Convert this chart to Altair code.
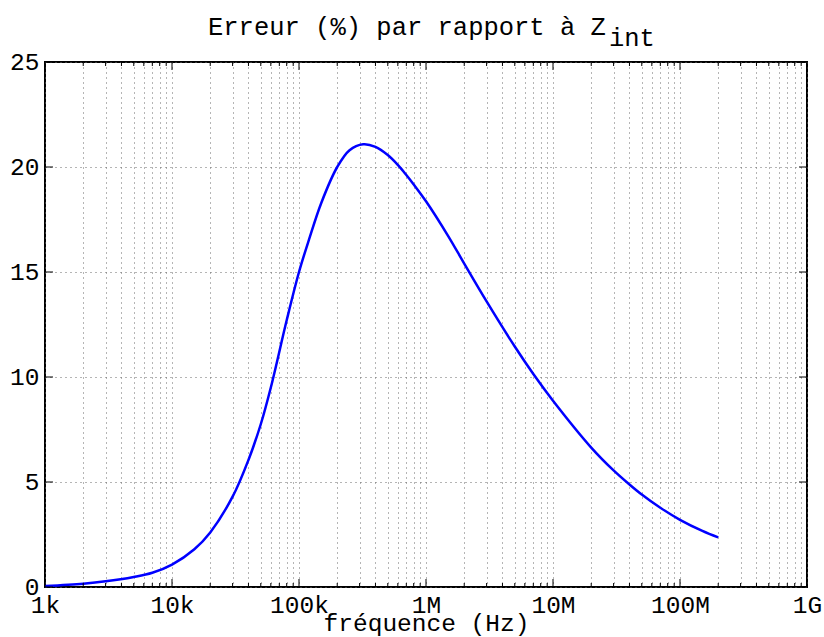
import json
import altair as alt
import pandas as pd

# ---- data ----
FREQ_HZ = [1e3, 2e3, 3e3, 5e3, 7e3, 1e4, 1.5e4, 2e4, 3e4, 4e4,
           5e4, 6e4, 8e4, 1e5, 1.2e5, 1.5e5, 2e5, 2.5e5, 3.2e5, 4e5,
           5e5, 6e5, 7e5, 8e5, 1e6, 1.5e6, 2e6, 3e6, 5e6, 7e6,
           1e7, 2e7, 3e7, 4e7, 5e7, 7e7, 1e8, 1.5e8, 2e8]
ERR_PCT = [0.05, 0.16, 0.27, 0.48, 0.68, 1.07, 1.8, 2.6, 4.3, 6.05,
           7.75, 9.5, 12.7, 15.0, 16.55, 18.3, 20.0, 20.8, 21.08, 20.96,
           20.57, 20.1, 19.62, 19.17, 18.37, 16.7, 15.4, 13.6, 11.45, 10.14,
           8.87, 6.64, 5.55, 4.88, 4.40, 3.77, 3.20, 2.67, 2.36]

DECADES = [1e3, 1e4, 1e5, 1e6, 1e7, 1e8, 1e9]
DECADE_LABELS = ["1k", "10k", "100k", "1M", "10M", "100M", "1G"]
MINOR_MULT = [2, 3, 4, 5, 6, 7, 8, 9]
Y_TICKS = [0, 5, 10, 15, 20, 25]

TITLE_MAIN = "Erreur (%) par rapport à Z"
TITLE_SUB = "int"
X_TITLE = "fréquence (Hz)"

# ---- layout / style ----
W, H = 762, 525
FONT = "Liberation Mono"
FS = 24.5
GRID_COLOR = "#6a6a6a"
GRID_DASH = [1, 4]

minor_vals = [d * m for d in DECADES[:-1] for m in MINOR_MULT]
grid_x = sorted(DECADES + minor_vals)

xscale = alt.Scale(type="log", domain=[1e3, 1e9], nice=False)
yscale = alt.Scale(domain=[0, 25], nice=False, zero=False)

lg = "(log(datum.value)/LN10)"
label_expr = (f"abs({lg} - round({lg})) < 0.001 ? "
              f"{json.dumps(DECADE_LABELS)}[round({lg}) - 3] : ''")

x_axis = alt.Axis(
    values=grid_x, labelExpr=label_expr, title=X_TITLE,
    grid=True, gridColor=GRID_COLOR, gridDash=GRID_DASH, gridWidth=1,
    domain=False, ticks=False, labelFlush=False, labelOverlap=False,
    labelFont=FONT, labelFontSize=FS, labelColor="black",
    labelBaseline="alphabetic", labelPadding=25,
    titleFont=FONT, titleFontSize=24.5, titleFontWeight="normal", titleColor="black",
    titleBaseline="alphabetic", titleY=43)
y_axis = alt.Axis(
    values=Y_TICKS, title=None,
    grid=True, gridColor=GRID_COLOR, gridDash=GRID_DASH, gridWidth=1,
    domain=False, ticks=False, labelFlush=False, labelOverlap=False,
    labelFont=FONT, labelFontSize=FS, labelColor="black",
    labelAlign="right", labelBaseline="middle", labelPadding=6)

curve_df = pd.DataFrame({"f": FREQ_HZ, "e": ERR_PCT})

curve = alt.Chart(curve_df).mark_line(
    color="#0000ff", strokeWidth=2.5, interpolate="catmull-rom"
).encode(
    x=alt.X("f:Q", scale=xscale, axis=x_axis),
    y=alt.Y("e:Q", scale=yscale, axis=y_axis),
)

maj_df = pd.DataFrame({"f": DECADES})
min_df = pd.DataFrame({"f": minor_vals})
yt_df = pd.DataFrame({"e": Y_TICKS})


def xticks(df, y0, y1):
    return alt.Chart(df).mark_rule(color="black", strokeWidth=1).encode(
        x=alt.X("f:Q", scale=xscale, axis=x_axis),
        y=alt.value(y0), y2=alt.value(y1))


def yticks(x0, x1):
    return alt.Chart(yt_df).mark_rule(color="black", strokeWidth=1).encode(
        y=alt.Y("e:Q", scale=yscale, axis=y_axis),
        x=alt.value(x0), x2=alt.value(x1))


tick_layers = [
    xticks(maj_df, H, H - 8), xticks(maj_df, 0, 8),
    xticks(min_df, H, H - 4), xticks(min_df, 0, 4),
    yticks(0, 8), yticks(W, W - 8),
]

title_main = alt.Chart(pd.DataFrame({"t": [TITLE_MAIN]})).mark_text(
    font=FONT, fontSize=25.5, align="left", baseline="alphabetic", color="black"
).encode(text="t:N", x=alt.value(163), y=alt.value(-27))

title_sub = alt.Chart(pd.DataFrame({"t": [TITLE_SUB]})).mark_text(
    font=FONT, fontSize=25.5, align="left", baseline="alphabetic", color="black"
).encode(text="t:N", x=alt.value(564), y=alt.value(-16))

chart = alt.layer(curve, *tick_layers, title_main, title_sub).properties(
    width=W, height=H,
    autosize=alt.AutoSizeParams(type="none"),
    padding={"left": 45, "top": 62, "right": 17, "bottom": 50},
    background="white",
).configure_view(stroke="black", strokeWidth=2)

chart.save("out.html", embed_options={"renderer": "svg", "actions": False})
